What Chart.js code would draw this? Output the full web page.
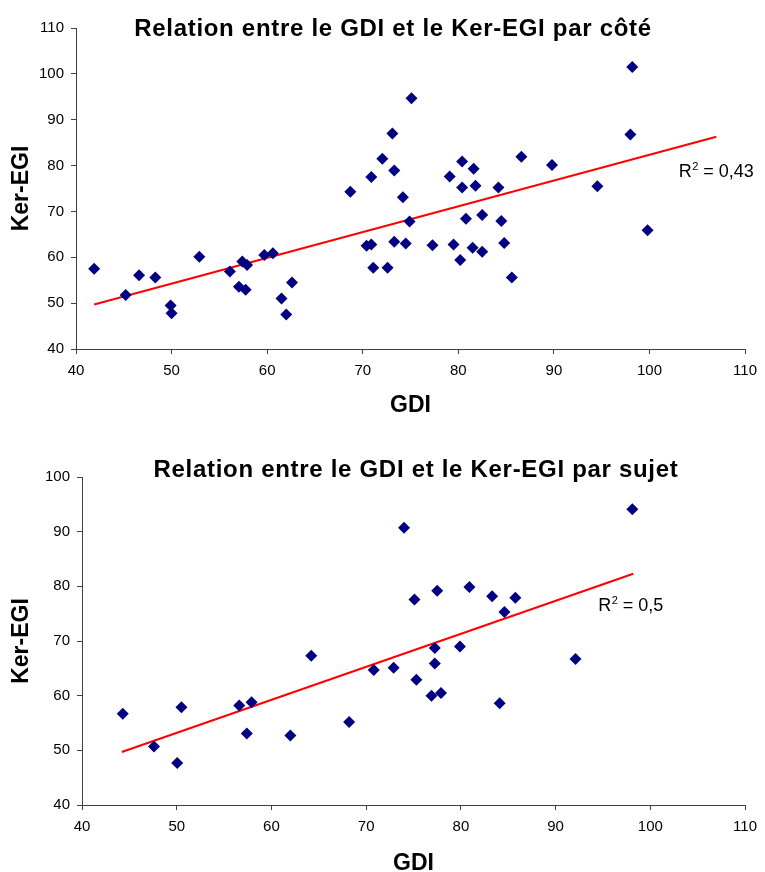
<!DOCTYPE html>
<html lang="fr">
<head>
<meta charset="UTF-8">
<title>Relation entre le GDI et le Ker-EGI</title>
<script src="https://cdn.jsdelivr.net/npm/chart.js"></script>
<style>
    body {
        margin: 0;
        padding: 0;
        background: #fff;
        overflow: hidden;
    }
    .chart-box {
        position: absolute;
        left: 0;
        width: 765px;
    }
    #boxCote { top: 0; height: 435px; }
    #boxSujet { top: 435px; height: 445px; }
</style>
</head>
<body>

<div class="chart-box" id="boxCote"><canvas id="chartCote"></canvas></div>
<div class="chart-box" id="boxSujet"><canvas id="chartSujet"></canvas></div>

<script>
// Données par côté
const gdiCote = [41.9, 45.2, 46.6, 48.3, 49.9, 50.0, 52.9, 56.1, 57.05, 57.4, 57.75, 57.9, 59.7, 60.6, 61.5, 62.0, 62.6,
    68.7, 70.4, 70.9, 70.9, 71.1, 72.05, 72.6, 73.1, 73.3, 73.3, 74.2, 74.5, 74.9, 75.1, 77.3, 79.1, 79.5, 80.2, 80.4,
    80.4, 80.8, 81.5, 81.6, 81.8, 82.5, 82.5, 84.2, 84.5, 84.8, 85.6, 86.6, 89.8, 94.55, 98.0, 98.2, 99.8];
const kerCote = [57.5, 51.8, 56.1, 55.6, 49.5, 47.8, 60.1, 56.9, 53.6, 59.1, 52.9, 58.3, 60.5, 60.9, 51.0, 47.5, 54.5,
    74.3, 62.5, 62.8, 77.5, 57.7, 81.5, 57.7, 87.0, 78.9, 63.4, 73.1, 63.0, 67.8, 94.7, 62.6, 77.6, 62.8, 59.4, 80.9,
    75.2, 68.4, 62.1, 79.3, 75.6, 69.2, 61.2, 75.2, 67.9, 63.1, 55.6, 81.9, 80.1, 75.5, 86.8, 101.5, 65.9];
const trendCoteX = [41.9, 107.0];
const trendCoteY = [49.7, 86.3];

// Données par sujet
const gdiSujet = [44.3, 47.6, 50.05, 50.5, 56.6, 57.4, 57.9, 62.0, 64.2, 68.2, 70.8, 72.9, 74.0, 75.1, 75.3, 76.9,
    77.25, 77.25, 77.5, 77.9, 79.9, 80.9, 83.3, 84.1, 84.6, 85.75, 92.1, 98.1];
const kerSujet = [56.7, 50.7, 47.7, 57.9, 58.2, 53.1, 58.8, 52.7, 67.3, 55.2, 64.7, 65.1, 90.7, 77.6, 62.9, 60.0,
    68.7, 65.9, 79.2, 60.5, 69.0, 79.9, 78.2, 58.6, 75.3, 77.9, 66.7, 94.1];
const trendSujetX = [44.2, 98.2];
const trendSujetY = [49.7, 82.3];

const FONT = '"Liberation Sans", Arial, sans-serif';
Chart.defaults.font.family = FONT;
Chart.defaults.color = '#000';

// titre + R² dessinés sur le canvas
const textPlugin = {
    id: 'chartText',
    afterDraw(chart, args, opts) {
        const ctx = chart.ctx;
        ctx.save();
        ctx.fillStyle = '#000';
        ctx.textBaseline = 'alphabetic';
        ctx.textAlign = 'center';
        ctx.font = 'bold 24px ' + FONT;
        if ('letterSpacing' in ctx) ctx.letterSpacing = '0.7px';
        ctx.fillText(opts.title, opts.titleX, opts.titleY);
        if ('letterSpacing' in ctx) ctx.letterSpacing = '0px';

        const x = chart.scales.x.getPixelForValue(opts.r2At[0]);
        const y = chart.scales.y.getPixelForValue(opts.r2At[1]);
        ctx.textAlign = 'left';
        ctx.font = '18px ' + FONT;
        ctx.fillText('R', x, y);
        let w = ctx.measureText('R').width + 0.5;
        ctx.font = '11px ' + FONT;
        ctx.fillText('2', x + w, y - 7);
        w += ctx.measureText('2').width;
        ctx.font = '18px ' + FONT;
        ctx.fillText(' = ' + opts.r2, x + w, y);
        ctx.restore();
    }
};

function makeChart(id, xs, ys, tx, ty, cfg) {
    const points = xs.map((x, i) => ({ x: x, y: ys[i] }));
    const trend = tx.map((x, i) => ({ x: x, y: ty[i] }));
    return new Chart(document.getElementById(id), {
        type: 'scatter',
        data: {
            datasets: [
                {
                    data: points,
                    pointStyle: 'rectRot',
                    pointRadius: 6,
                    backgroundColor: '#000080',
                    borderColor: '#000080',
                    borderWidth: 0
                },
                {
                    type: 'line',
                    data: trend,
                    borderColor: '#ff0000',
                    borderWidth: 2,
                    pointRadius: 0,
                    fill: false
                }
            ]
        },
        options: {
            responsive: true,
            maintainAspectRatio: false,
            animation: false,
            layout: { padding: { top: cfg.top, left: 0, right: 17, bottom: 0 } },
            plugins: {
                legend: { display: false },
                tooltip: { enabled: false },
                chartText: cfg.text
            },
            scales: {
                x: {
                    type: 'linear',
                    min: 40,
                    max: 110,
                    ticks: { stepSize: 10, padding: 8, font: { size: 15 }, color: '#000' },
                    grid: { drawOnChartArea: false, tickLength: 5, color: '#404040' },
                    border: { color: '#404040', width: 1 },
                    title: {
                        display: true,
                        text: 'GDI',
                        font: { size: 23, weight: 'bold' },
                        padding: { top: 0, bottom: cfg.gdiPad }
                    },
                    afterFit: s => { s.height = cfg.xHeight; }
                },
                y: {
                    min: 40,
                    max: cfg.yMax,
                    ticks: { stepSize: 10, padding: 7, font: { size: 15 }, color: '#000' },
                    grid: { drawOnChartArea: false, tickLength: 5, color: '#404040' },
                    border: { color: '#404040', width: 1 },
                    title: {
                        display: true,
                        text: 'Ker-EGI',
                        font: { size: 23, weight: 'bold' },
                        padding: { top: 8, bottom: 0 }
                    },
                    afterFit: s => { s.width = cfg.yWidth; }
                }
            }
        },
        plugins: [textPlugin]
    });
}

makeChart('chartCote', gdiCote, kerCote, trendCoteX, trendCoteY, {
    top: 28, yMax: 110, xHeight: 86, yWidth: 76, gdiPad: 16,
    text: { title: 'Relation entre le GDI et le Ker-EGI par côté', titleX: 393, titleY: 36, r2: '0,43', r2At: [103.06, 77.6] }
});

makeChart('chartSujet', gdiSujet, kerSujet, trendSujetX, trendSujetY, {
    top: 42, yMax: 100, xHeight: 75, yWidth: 82, gdiPad: 3,
    text: { title: 'Relation entre le GDI et le Ker-EGI par sujet', titleX: 416, titleY: 42, r2: '0,5', r2At: [94.5, 75.4] }
});
</script>
</body>
</html>
